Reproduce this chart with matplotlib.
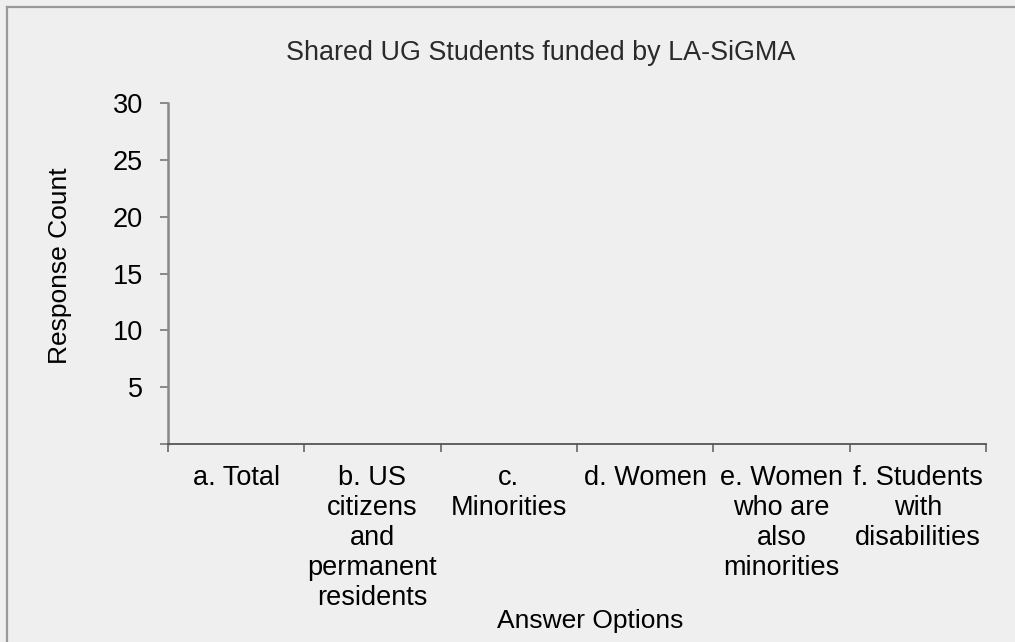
import matplotlib
matplotlib.use("Agg")
import matplotlib.pyplot as plt
from matplotlib.lines import Line2D

# Chart data (the survey chart has no responses drawn)
categories = ["a. Total",
              "b. US\ncitizens\nand\npermanent\nresidents",
              "c.\nMinorities",
              "d. Women",
              "e. Women\nwho are\nalso\nminorities",
              "f. Students\nwith\ndisabilities"]
counts = [0, 0, 0, 0, 0, 0]
y_ticks = [0, 5, 10, 15, 20, 25, 30]
y_tick_labels = ["", "5", "10", "15", "20", "25", "30"]

title = "Shared UG Students funded by LA-SiGMA"
x_label = "Answer Options"
y_label = "Response Count"

plt.rcParams['font.family'] = ['Liberation Sans', 'DejaVu Sans']

W, H = 1015, 642
bg = '#efefef'
fig = plt.figure(figsize=(W / 100, H / 100), dpi=100, facecolor=bg)

# axes box in pixels: left 168, right 986, top 103, bottom 444
ax = fig.add_axes([168 / W, 1 - 444 / H, (986 - 168) / W, (444 - 103) / H])
ax.set_facecolor(bg)

pos = list(range(len(categories)))
ax.bar([p + 0.5 for p in pos], counts, width=0.6, color='#4f81bd', linewidth=0)

ax.set_xlim(0, len(categories))
ax.set_ylim(0, 30)
ax.set_yticks(y_ticks)
ax.set_yticklabels(y_tick_labels)

# category boundaries as major ticks, labels on minor ticks
ax.set_xticks(range(len(categories) + 1))
ax.set_xticklabels([])
ax.set_xticks([p + 0.5 for p in pos], minor=True)
ax.set_xticklabels(categories, minor=True, fontsize=19.5, linespacing=1.2,
                   va='top', ha='center')
ax.tick_params(axis='x', which='minor', length=0, pad=15)
ax.tick_params(axis='x', which='major', length=6, width=1.2, color='#666666')
ax.tick_params(axis='y', length=6, width=1.2, color='#777777', labelsize=19.5, pad=12)

for s in ['top', 'right']:
    ax.spines[s].set_visible(False)
ax.spines['left'].set_color('#888888')
ax.spines['left'].set_linewidth(1.8)
ax.spines['bottom'].set_color('#555555')
ax.spines['bottom'].set_linewidth(1.3)

fig.text(541 / W, 1 - 60 / H, title, ha='center', va='baseline',
         fontsize=19.4, color='#2a2a2a')
fig.text(590 / W, 1 - 628 / H, x_label, ha='center', va='baseline', fontsize=19)
fig.text(60 / W, 1 - 266 / H, y_label, ha='center', va='center',
         rotation=90, fontsize=19)

# outer frame (left and top edges)
fig.add_artist(Line2D([6.5 / W, 6.5 / W], [0, 1 - 6.5 / H], transform=fig.transFigure,
                      color='#999999', linewidth=1.6))
fig.add_artist(Line2D([6.5 / W, 1], [1 - 6.5 / H, 1 - 6.5 / H], transform=fig.transFigure,
                      color='#999999', linewidth=1.6))

fig.savefig("out.png", dpi=100, facecolor=bg)
